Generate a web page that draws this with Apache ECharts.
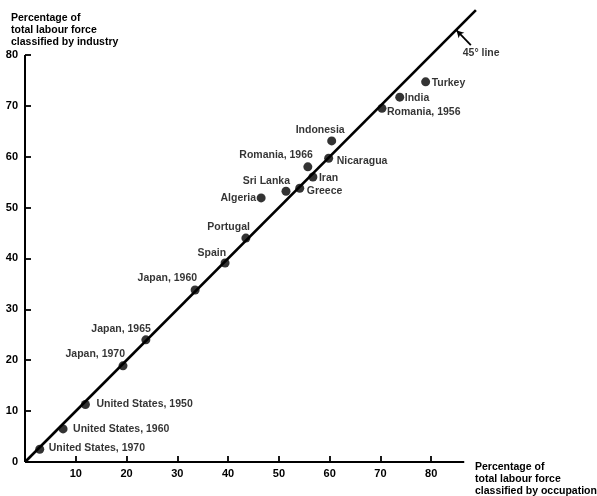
<!DOCTYPE html>
<html>
<head>
<meta charset="utf-8">
<script src="https://cdn.jsdelivr.net/npm/echarts@6/dist/echarts.min.js"></script>
<style>
  html, body { margin: 0; padding: 0; background: #fff; }
  #chart { width: 597px; height: 496px; }
</style>
</head>
<body>
<div id="chart"></div>
<script>
// Labour force share: occupation (x) vs industry (y), percent
const names = [
  'United States, 1970', 'United States, 1960', 'United States, 1950',
  'Japan, 1970', 'Japan, 1965', 'Japan, 1960',
  'Spain', 'Portugal', 'Algeria', 'Sri Lanka', 'Greece', 'Iran',
  'Romania, 1966', 'Nicaragua', 'Indonesia', 'Romania, 1956', 'India', 'Turkey'
];
const byOccupation = [2.9, 7.5, 11.9, 19.3, 23.8, 33.5, 39.4, 43.5, 46.5, 51.4, 54.1, 56.7, 55.7, 59.8, 60.4, 70.3, 73.8, 78.9];
const byIndustry   = [2.5, 6.5, 11.3, 18.9, 24.0, 33.8, 39.1, 44.0, 51.9, 53.2, 53.8, 56.0, 58.0, 59.7, 63.1, 69.5, 71.7, 74.7];

const xTicks = [10, 20, 30, 40, 50, 60, 70, 80];
const yTicks = [0, 10, 20, 30, 40, 50, 60, 70, 80];
const diagonal = [[0, 0], [88.8, 88.8]];
const arrowFrom = [87.8, 81.9];
const arrowTo = [85.0, 84.8];

const FONT = 'Liberation Sans';
const SYM = 9;

// label placement per point: [dx, dy, align] measured from the dot centre
const labelPlace = {
  'United States, 1970': [9, -1, 'left'],
  'United States, 1960': [10, 0, 'left'],
  'United States, 1950': [11, 0, 'left'],
  'Japan, 1970': [2, -12, 'right'],
  'Japan, 1965': [5, -11, 'right'],
  'Japan, 1960': [2, -12, 'right'],
  'Spain': [1, -10, 'right'],
  'Portugal': [4, -11, 'right'],
  'Algeria': [-5, 0, 'right'],
  'Sri Lanka': [4, -10, 'right'],
  'Greece': [7, 3, 'left'],
  'Iran': [6, 1, 'left'],
  'Romania, 1966': [5, -12, 'right'],
  'Nicaragua': [8, 3, 'left'],
  'Indonesia': [13, -11, 'right'],
  'Romania, 1956': [5, 4, 'left'],
  'India': [5, 1, 'left'],
  'Turkey': [6, 1, 'left']
};

const points = names.map((n, i) => {
  const p = labelPlace[n];
  return {
    name: n,
    value: [byOccupation[i], byIndustry[i]],
    label: {
      position: [SYM / 2 + p[0], SYM / 2 + p[1]],
      align: p[2],
      verticalAlign: 'middle'
    }
  };
});

const textStyle = { color: '#000', fontFamily: FONT, fontWeight: 'bold', fontSize: 10.5 };

const chart = echarts.init(document.getElementById('chart'), null, { renderer: 'canvas' });
chart.setOption({
  backgroundColor: '#fff',
  animation: false,
  grid: { left: 25, right: 115, top: 4, bottom: 34 },
  xAxis: {
    type: 'value', min: 0, max: 90, interval: 10,
    axisLine: { show: false },
    splitLine: { show: false },
    axisTick: { show: true, inside: true, length: 6, customValues: xTicks, lineStyle: { color: '#000', width: 1.8 } },
    axisLabel: { customValues: xTicks, margin: 6, color: '#000', fontFamily: FONT, fontWeight: 'bold', fontSize: 11 }
  },
  yAxis: {
    type: 'value', min: 0, max: 90, interval: 10,
    axisLine: { show: false },
    splitLine: { show: false },
    axisTick: { show: true, inside: true, length: 6, customValues: yTicks.filter(v => v > 0), lineStyle: { color: '#000', width: 1.8 } },
    axisLabel: { customValues: yTicks, margin: 7, color: '#000', fontFamily: FONT, fontWeight: 'bold', fontSize: 11 }
  },
  graphic: [
    {
      type: 'text', left: 11, top: 12,
      style: { text: 'Percentage of\ntotal labour force\nclassified by industry', lineHeight: 12, fill: '#000', font: 'bold 10.5px "' + FONT + '"' }
    },
    {
      type: 'text', left: 475, top: 461,
      style: { text: 'Percentage of\ntotal labour force\nclassified by occupation', lineHeight: 12, fill: '#000', font: 'bold 10.5px "' + FONT + '"' }
    }
  ],
  series: [
    {
      // vertical axis line, 0 to 80
      type: 'line', data: [[0, 0], [0, 80]], symbol: 'none', silent: true,
      lineStyle: { color: '#000', width: 2 }
    },
    {
      // horizontal axis line
      type: 'line', data: [[0, 0], [86.5, 0]], symbol: 'none', silent: true,
      lineStyle: { color: '#000', width: 2 }
    },
    {
      // 45-degree reference line, with a pointer to it
      type: 'line', data: diagonal, symbol: 'none', silent: true,
      lineStyle: { color: '#000', width: 2.6 },
      markLine: {
        silent: true,
        symbol: ['none', 'arrow'],
        symbolSize: [6, 7],
        label: { show: false },
        lineStyle: { color: '#000', width: 1.8, type: 'solid' },
        data: [[{ coord: arrowFrom }, { coord: arrowTo }]]
      }
    },
    {
      type: 'scatter', silent: true,
      data: [{ value: [86.2, 80.3], name: '45° line' }],
      symbolSize: 0,
      label: { show: true, formatter: '{b}', position: [0, 0], align: 'left', verticalAlign: 'middle', ...textStyle }
    },
    {
      type: 'scatter',
      data: points,
      symbol: 'circle', symbolSize: SYM,
      itemStyle: { color: '#000' },
      label: { show: true, formatter: '{b}', ...textStyle },
      z: 5
    }
  ]
});
</script>
</body>
</html>
